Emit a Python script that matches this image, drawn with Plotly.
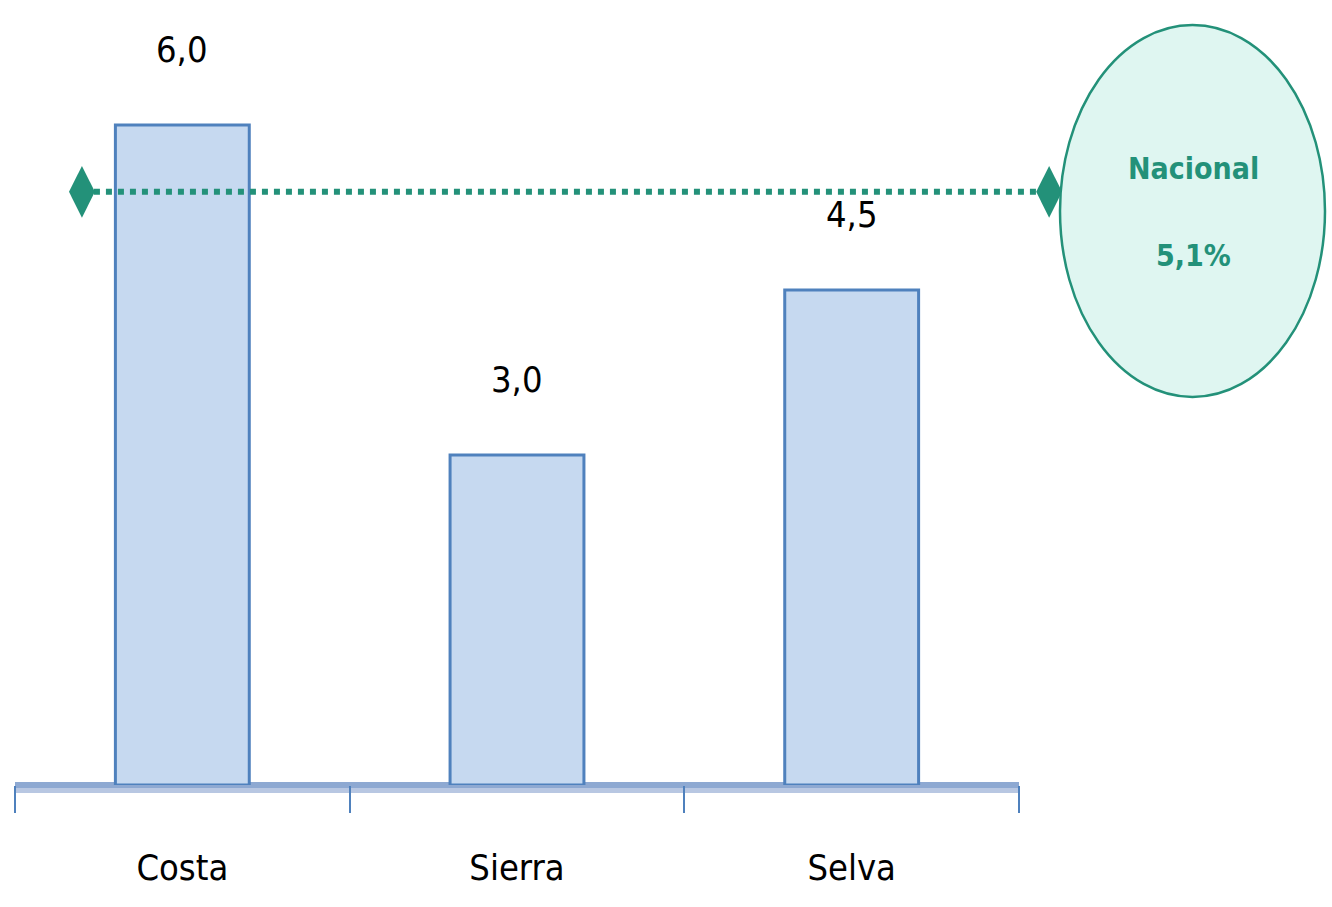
import plotly.graph_objects as go

categories = ["Costa", "Sierra", "Selva"]
values = [6.0, 3.0, 4.5]
national_label = "Nacional"
national_value = 5.1

BAR_FILL = "#c6d9f0"
BAR_LINE = "#4f81bd"
TEAL = "#239179"
FONT = "DejaVu Sans Condensed, Liberation Sans Narrow, Liberation Sans, Arial, sans-serif"

W, H = 1332, 907
M_T, M_B = 15, 122
plot_h = H - M_T - M_B
cat_px = 334.67
ax_left_px = 15
x_min = -0.5 - ax_left_px / cat_px
x_max = x_min + W / cat_px
xpos = list(range(len(categories)))


def fmt(v):
    return f"{v:.1f}".replace(".", ",")


def py(p):
    # pixel row -> paper y
    return (H - M_B - p) / plot_h


fig = go.Figure()

fig.add_trace(go.Bar(
    x=xpos, y=values, width=0.4,
    marker=dict(color=BAR_FILL, line=dict(color=BAR_LINE, width=3)),
    hoverinfo="skip", showlegend=False,
))

# national reference line (secondary value axis, as in the source chart)
fig.add_trace(go.Scatter(
    x=[-0.3, 2.59], y=[national_value, national_value], yaxis="y2",
    mode="lines+markers",
    line=dict(color=TEAL, width=6, dash="dot"),
    marker=dict(symbol="diamond-tall", size=37, color=TEAL),
    cliponaxis=False, hoverinfo="skip", showlegend=False,
))

# value labels
for xp, v in zip(xpos, values):
    fig.add_annotation(x=xp, y=v, text=fmt(v), showarrow=False,
                       yanchor="middle", yshift=76,
                       font=dict(family=FONT, size=36, color="#000000"))

shapes = [
    # axis band
    dict(type="rect", xref="x", yref="paper", x0=-0.5, x1=2.5,
         y0=py(788), y1=py(782), fillcolor="#8ea9d2", line=dict(width=0), layer="below"),
    dict(type="rect", xref="x", yref="paper", x0=-0.5, x1=2.5,
         y0=py(793), y1=py(788), fillcolor="#b8c7e2", line=dict(width=0), layer="below"),
    # national bubble
    dict(type="circle", xref="x", yref="paper",
         x0=x_min + 1060 / cat_px, x1=x_min + 1325 / cat_px,
         y0=py(397), y1=py(25),
         fillcolor="#dff6f1", line=dict(color=TEAL, width=2.5), layer="above"),
]
fig.update_layout(shapes=shapes)

cx = x_min + 1193 / cat_px
fig.add_annotation(x=cx, y=py(168), xref="x", yref="paper", text=f"<b>{national_label}</b>",
                   showarrow=False, yanchor="middle", xanchor="center",
                   font=dict(family=FONT, size=30, color=TEAL))
fig.add_annotation(x=cx, y=py(255), xref="x", yref="paper", text=f"<b>{fmt(national_value)}%</b>",
                   showarrow=False, yanchor="middle", xanchor="center",
                   font=dict(family=FONT, size=30, color=TEAL))

fig.update_xaxes(
    range=[x_min, x_max], tickmode="array", tickvals=xpos, ticktext=categories,
    ticks="", showgrid=False, zeroline=False, showline=False, automargin=False,
    minor=dict(tick0=-0.5, dtick=1, ticks="outside", ticklen=27, tickwidth=2,
               tickcolor=BAR_LINE, showgrid=False),
    tickfont=dict(family=FONT, size=36, color="#000000"),
    ticklabelstandoff=58,
)

fig.update_layout(
    width=W, height=H,
    margin=dict(l=0, r=0, t=M_T, b=M_B),
    plot_bgcolor="white", paper_bgcolor="white",
    showlegend=False,
    yaxis=dict(range=[0, 7], visible=False, showgrid=False, zeroline=False, automargin=False),
    yaxis2=dict(range=[0, 6.62], overlaying="y", visible=False, showgrid=False,
                zeroline=False, automargin=False),
)

fig.write_html("out.html", config={"displayModeBar": False},
               post_script="document.body.style.margin='0';")
